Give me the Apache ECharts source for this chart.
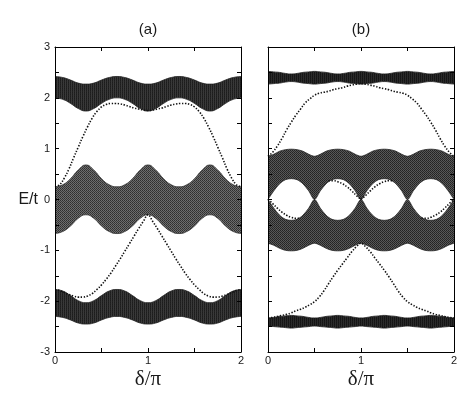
<!DOCTYPE html>
<html><head><meta charset="utf-8">
<script src="https://cdn.jsdelivr.net/npm/echarts@6/dist/echarts.min.js"></script>
<style>html,body{margin:0;padding:0;background:#fff}#c{width:475px;height:396px}</style>
</head><body><div id="c"></div>
<script>
// ---------- panel (a): band edges, sampled at delta/pi step 1/12 ----------
const deltaA = [0,0.083,0.167,0.25,0.333,0.417,0.5,0.583,0.667,0.75,0.833,0.917,1,1.083,1.167,1.25,1.333,1.417,1.5,1.583,1.667,1.75,1.833,1.917,2];
const aTopHi = [2.42,2.40,2.35,2.29,2.27,2.29,2.35,2.40,2.42,2.40,2.35,2.29,2.27,2.29,2.35,2.40,2.42,2.40,2.35,2.29,2.27,2.29,2.35,2.40,2.42];
const aTopLo = [2.00,1.97,1.89,1.79,1.74,1.79,1.89,1.97,2.00,1.97,1.89,1.79,1.74,1.79,1.89,1.97,2.00,1.97,1.89,1.79,1.74,1.79,1.89,1.97,2.00];
const aMidHi = [0.25,0.29,0.41,0.58,0.68,0.58,0.41,0.29,0.25,0.29,0.41,0.58,0.68,0.58,0.41,0.29,0.25,0.29,0.41,0.58,0.68,0.58,0.41,0.29,0.25];
const aMidLo = [-0.67,-0.63,-0.52,-0.37,-0.30,-0.37,-0.52,-0.63,-0.67,-0.63,-0.52,-0.37,-0.30,-0.37,-0.52,-0.63,-0.67,-0.63,-0.52,-0.37,-0.30,-0.37,-0.52,-0.63,-0.67];
const aBotHi = [-1.77,-1.80,-1.89,-1.99,-2.03,-1.99,-1.89,-1.80,-1.77,-1.80,-1.89,-1.99,-2.03,-1.99,-1.89,-1.80,-1.77,-1.80,-1.89,-1.99,-2.03,-1.99,-1.89,-1.80,-1.77];
const aBotLo = [-2.30,-2.32,-2.37,-2.43,-2.45,-2.43,-2.37,-2.32,-2.30,-2.32,-2.37,-2.43,-2.45,-2.43,-2.37,-2.32,-2.30,-2.32,-2.37,-2.43,-2.45,-2.43,-2.37,-2.32,-2.30];

// ---------- edge states, sampled at delta/pi step 0.05 ----------
const deltaE = [0,0.05,0.1,0.15,0.2,0.25,0.3,0.35,0.4,0.45,0.5,0.55,0.6,0.65,0.7,0.75,0.8,0.85,0.9,0.95,1,1.05,1.1,1.15,1.2,1.25,1.3,1.35,1.4,1.45,1.5,1.55,1.6,1.65,1.7,1.75,1.8,1.85,1.9,1.95,2];
const aEdgeUp = [0.25,0.29,0.42,0.60,0.82,1.03,1.24,1.43,1.60,1.73,1.82,1.87,1.89,1.89,1.88,1.86,1.83,1.80,1.78,1.76,1.75,1.76,1.78,1.80,1.83,1.86,1.88,1.89,1.89,1.87,1.82,1.73,1.60,1.43,1.24,1.03,0.82,0.60,0.42,0.29,0.25];
const aEdgeDn = [-1.77,-1.79,-1.83,-1.87,-1.90,-1.92,-1.92,-1.90,-1.85,-1.77,-1.68,-1.57,-1.45,-1.31,-1.17,-1.02,-0.87,-0.72,-0.57,-0.43,-0.30,-0.43,-0.57,-0.72,-0.87,-1.02,-1.17,-1.31,-1.45,-1.57,-1.68,-1.77,-1.85,-1.90,-1.92,-1.92,-1.90,-1.87,-1.83,-1.79,-1.77];

// ---------- panel (b): band edges, sampled at delta/pi step 1/16 ----------
const deltaB = [0,0.0625,0.125,0.1875,0.25,0.3125,0.375,0.4375,0.5,0.5625,0.625,0.6875,0.75,0.8125,0.875,0.9375,1,1.0625,1.125,1.1875,1.25,1.3125,1.375,1.4375,1.5,1.5625,1.625,1.6875,1.75,1.8125,1.875,1.9375,2];
const bTopHi = [2.52,2.51,2.50,2.48,2.47,2.48,2.50,2.51,2.52,2.51,2.50,2.48,2.47,2.48,2.50,2.51,2.52,2.51,2.50,2.48,2.47,2.48,2.50,2.51,2.52,2.51,2.50,2.48,2.47,2.48,2.50,2.51,2.52];
const bTopLo = [2.27,2.28,2.29,2.31,2.32,2.31,2.29,2.28,2.27,2.28,2.29,2.31,2.32,2.31,2.29,2.28,2.27,2.28,2.29,2.31,2.32,2.31,2.29,2.28,2.27,2.28,2.29,2.31,2.32,2.31,2.29,2.28,2.27];
const bUpHi = [0.85,0.89,0.95,0.98,0.99,0.98,0.95,0.89,0.85,0.89,0.95,0.98,0.99,0.98,0.95,0.89,0.85,0.89,0.95,0.98,0.99,0.98,0.95,0.89,0.85,0.89,0.95,0.98,0.99,0.98,0.95,0.89,0.85];
const bUpLo = [0,0.17,0.31,0.39,0.41,0.39,0.31,0.17,0,0.17,0.31,0.39,0.41,0.39,0.31,0.17,0,0.17,0.31,0.39,0.41,0.39,0.31,0.17,0,0.17,0.31,0.39,0.41,0.39,0.31,0.17,0];
const bDnHi = [0,-0.17,-0.31,-0.39,-0.41,-0.39,-0.31,-0.17,0,-0.17,-0.31,-0.39,-0.41,-0.39,-0.31,-0.17,0,-0.17,-0.31,-0.39,-0.41,-0.39,-0.31,-0.17,0,-0.17,-0.31,-0.39,-0.41,-0.39,-0.31,-0.17,0];
const bDnLo = [-0.86,-0.90,-0.96,-1.00,-1.01,-1.00,-0.96,-0.90,-0.86,-0.90,-0.96,-1.00,-1.01,-1.00,-0.96,-0.90,-0.86,-0.90,-0.96,-1.00,-1.01,-1.00,-0.96,-0.90,-0.86,-0.90,-0.96,-1.00,-1.01,-1.00,-0.96,-0.90,-0.86];
const bBotHi = [-2.33,-2.32,-2.30,-2.29,-2.28,-2.29,-2.30,-2.32,-2.33,-2.32,-2.30,-2.29,-2.28,-2.29,-2.30,-2.32,-2.33,-2.32,-2.30,-2.29,-2.28,-2.29,-2.30,-2.32,-2.33,-2.32,-2.30,-2.29,-2.28,-2.29,-2.30,-2.32,-2.33];
const bBotLo = [-2.49,-2.50,-2.51,-2.52,-2.53,-2.52,-2.51,-2.50,-2.49,-2.50,-2.51,-2.52,-2.53,-2.52,-2.51,-2.50,-2.49,-2.50,-2.51,-2.52,-2.53,-2.52,-2.51,-2.50,-2.49,-2.50,-2.51,-2.52,-2.53,-2.52,-2.51,-2.50,-2.49];

const bEdgeUp = [0.85,0.93,1.05,1.20,1.37,1.52,1.66,1.78,1.90,1.98,2.05,2.09,2.11,2.13,2.16,2.18,2.20,2.23,2.25,2.27,2.28,2.27,2.25,2.23,2.20,2.18,2.16,2.13,2.11,2.09,2.05,1.98,1.90,1.78,1.66,1.52,1.37,1.20,1.05,0.93,0.85];
const bEdgeDn = [-2.33,-2.32,-2.30,-2.28,-2.26,-2.23,-2.19,-2.16,-2.12,-2.07,-2.01,-1.92,-1.80,-1.66,-1.52,-1.39,-1.27,-1.15,-1.03,-0.93,-0.86,-0.93,-1.03,-1.15,-1.27,-1.39,-1.52,-1.66,-1.80,-1.92,-2.01,-2.07,-2.12,-2.16,-2.19,-2.23,-2.26,-2.28,-2.30,-2.32,-2.33];
// inner-gap edge states of (b)
const bIn1X = [0,0.05,0.1,0.15,0.2,0.25,0.3,0.35];
const bIn1 = [0,-0.08,-0.17,-0.25,-0.31,-0.35,-0.37,-0.37];
const bIn2X = [0.65,0.7,0.75,0.8,0.85,0.9,0.95,1];
const bIn2 = [0.37,0.37,0.35,0.31,0.25,0.17,0.08,0];
const bIn3X = [1,1.05,1.1,1.15,1.2,1.25,1.3,1.35];
const bIn3 = [0,0.08,0.17,0.25,0.31,0.35,0.37,0.37];
const bIn4X = [1.65,1.7,1.75,1.8,1.85,1.9,1.95,2];
const bIn4 = [-0.37,-0.37,-0.35,-0.31,-0.25,-0.17,-0.08,0];

const xTicks = [0, 1, 2];
const yTicks = [-3, -2, -1, 0, 1, 2, 3];

// small texture tiles imitating the dense dotted eigenvalue columns
function tile(cols) {
  const c = document.createElement('canvas');
  c.width = cols[0].length; c.height = cols.length;
  const ctx = c.getContext('2d');
  cols.forEach((row, y) => row.forEach((col, x) => { ctx.fillStyle = col; ctx.fillRect(x, y, 1, 1); }));
  return {image: c, repeat: 'repeat'};
}
const texOuterA = tile([['#1c1c1c','#3a3a3a'],['#222222','#383838']]);
const texMidA   = tile([['#2e2e2e','#707070'],['#6a6a6a','#3a3a3a']]);
const texOuterB = tile([['#141414','#2c2c2c'],['#181818','#2a2a2a']]);
const texMidB   = tile([['#222222','#5a5a5a'],['#555555','#2a2a2a']]);

const pairs = (xs, ys) => xs.map((x, i) => [x, ys[i]]);
function band(xs, hi, lo, fill, edge, g, smooth) {
  const common = {type:'line', xAxisIndex:g*2, yAxisIndex:g*2, showSymbol:false, symbol:'none',
    smooth: smooth, silent:true, animation:false, z:2};
  return [
    Object.assign({}, common, {data: pairs(xs, hi), lineStyle:{color:edge, width:0.8},
      areaStyle:{color:fill, opacity:1, origin:'start'}}),
    Object.assign({}, common, {data: pairs(xs, lo), lineStyle:{color:edge, width:0.8},
      areaStyle:{color:'#ffffff', opacity:1, origin:'start'}})
  ];
}
function edge(xs, ys, g) {
  return {type:'line', xAxisIndex:g*2, yAxisIndex:g*2, showSymbol:false, symbol:'none', smooth:0.4,
    silent:true, animation:false, z:3, data: pairs(xs, ys),
    lineStyle:{color:'#111', width:1.6, type:[1.4, 1.6]}};
}

const series = [].concat(
  band(deltaA, aTopHi, aTopLo, texOuterA, '#222', 0, 0.5),
  band(deltaA, aMidHi, aMidLo, texMidA, '#333', 0, 0.5),
  band(deltaA, aBotHi, aBotLo, texOuterA, '#222', 0, 0.5),
  [edge(deltaE, aEdgeUp, 0), edge(deltaE, aEdgeDn, 0)],
  band(deltaB, bTopHi, bTopLo, texOuterB, '#1a1a1a', 1, 0.5),
  band(deltaB, bUpHi, bUpLo, texMidB, '#222', 1, 0.3),
  band(deltaB, bDnHi, bDnLo, texMidB, '#222', 1, 0.3),
  band(deltaB, bBotHi, bBotLo, texOuterB, '#1a1a1a', 1, 0.5),
  [edge(deltaE, bEdgeUp, 1), edge(deltaE, bEdgeDn, 1),
   edge(bIn1X, bIn1, 1), edge(bIn2X, bIn2, 1), edge(bIn3X, bIn3, 1), edge(bIn4X, bIn4, 1)]
);

const axisCol = '#000';
const labelStyle = {fontSize:11, color:'#1a1a1a', fontFamily:'Liberation Sans'};
function xAxes(g) {
  return [
    {gridIndex:g, type:'value', min:0, max:2, interval:0.5, position:'bottom', z:10,
     axisLine:{onZero:false, lineStyle:{color:axisCol, width:1}},
     axisTick:{inside:true, length:4, lineStyle:{color:axisCol, width:1}},
     axisLabel:Object.assign({margin:3, formatter: v => xTicks.includes(v) ? String(v) : ''}, labelStyle),
     splitLine:{show:false},
     name:'δ/π', nameLocation:'middle', nameGap:17, nameMoveOverlap:false,
     nameTextStyle:{fontFamily:'Liberation Serif', fontSize:21, color:'#1a1a1a'}},
    {gridIndex:g, type:'value', min:0, max:2, interval:0.5, position:'top', z:10,
     axisLine:{onZero:false, lineStyle:{color:axisCol, width:1}},
     axisTick:{inside:true, length:4, lineStyle:{color:axisCol, width:1}},
     axisLabel:{show:false}, splitLine:{show:false}}
  ];
}
function yAxes(g) {
  return [
    {gridIndex:g, type:'value', min:-3, max:3, interval:0.5, position:'left', z:10,
     axisLine:{onZero:false, lineStyle:{color:axisCol, width:1}},
     axisTick:{inside:true, length:4, lineStyle:{color:axisCol, width:1}},
     axisLabel:Object.assign({show: g === 0, margin:5, formatter: v => yTicks.includes(v) ? String(v) : ''}, labelStyle),
     splitLine:{show:false},
     name: g === 0 ? 'E/t' : '', nameLocation:'middle', nameRotate:0, nameGap:17, nameMoveOverlap:false,
     nameTextStyle:{fontFamily:'Liberation Sans', fontSize:16, color:'#1a1a1a'}},
    {gridIndex:g, type:'value', min:-3, max:3, interval:0.5, position:'right', z:10,
     axisLine:{onZero:false, lineStyle:{color:axisCol, width:1}},
     axisTick:{inside:true, length:4, lineStyle:{color:axisCol, width:1}},
     axisLabel:{show:false}, splitLine:{show:false}}
  ];
}

const chart = echarts.init(document.getElementById('c'), null, {renderer:'canvas'});
chart.setOption({
  backgroundColor:'#ffffff',
  animation:false,
  title:[
    {text:'(a)', left:148, top:22, padding:0, textAlign:'center',
     textStyle:{fontSize:15, fontWeight:'normal', color:'#1a1a1a', fontFamily:'Liberation Sans'}},
    {text:'(b)', left:361, top:22, padding:0, textAlign:'center',
     textStyle:{fontSize:15, fontWeight:'normal', color:'#1a1a1a', fontFamily:'Liberation Sans'}}
  ],
  grid:[
    {left:55, top:47, width:186, height:305, outerBoundsMode:'none', containLabel:false},
    {left:268, top:47, width:186, height:305, outerBoundsMode:'none', containLabel:false}
  ],
  xAxis: xAxes(0).concat(xAxes(1)),
  yAxis: yAxes(0).concat(yAxes(1)),
  series: series
});
</script></body></html>
